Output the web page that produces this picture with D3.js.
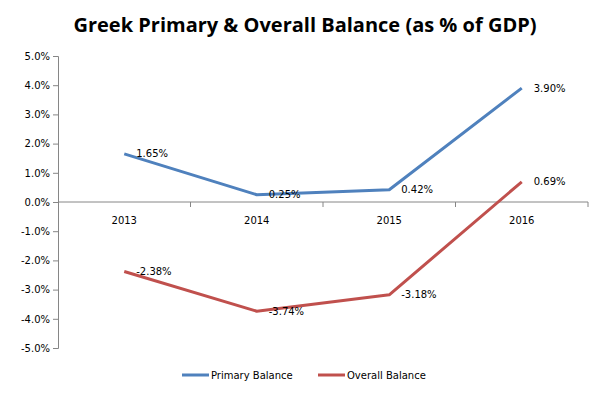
<!DOCTYPE html>
<html>
<head>
<meta charset="utf-8">
<script src="https://cdn.jsdelivr.net/npm/d3@7"></script>
<style>
  body { margin: 0; background: #fff; }
  text { font-family: "DejaVu Sans", Verdana, sans-serif; }
</style>
</head>
<body>
<div id="chart"></div>
<script>
const years = ["2013", "2014", "2015", "2016"];
const primaryBalance = [1.65, 0.25, 0.42, 3.90];
const overallBalance = [-2.38, -3.74, -3.18, 0.69];
const yTicks = [5, 4, 3, 2, 1, 0, -1, -2, -3, -4, -5];

const series = [
  {name: "Primary Balance", values: primaryBalance, color: "#4F81BD"},
  {name: "Overall Balance", values: overallBalance, color: "#C0504D"}
];

let W = 603, H = 396;
let margin = {top: 56, left: 58, right: 15, bottom: 48};
let width = W - margin.left - margin.right;
let height = H - margin.top - margin.bottom;

let svg = d3.select("#chart").append("svg")
  .attr("width", W)
  .attr("height", H);

// title
svg.append("text")
  .attr("x", 305)
  .attr("y", 32)
  .attr("text-anchor", "middle")
  .style("font-family", "'Open Sans', sans-serif")
  .style("font-weight", "bold")
  .style("font-size", "20px")
  .text("Greek Primary & Overall Balance (as % of GDP)");

let g = svg.append("g")
  .attr("transform", `translate(${margin.left}, ${margin.top})`);

let x = d3.scaleBand().domain(years).range([0, width]);
let y = d3.scaleLinear().domain([-5, 5]).range([height, 0]);

// y axis
let yAxis = g.append("g")
  .call(d3.axisLeft(y).tickValues(yTicks).tickSize(5).tickFormat(d => d.toFixed(1) + "%"));
yAxis.selectAll("text").style("font-size", "10px").attr("fill", "#000");
yAxis.select(".domain").attr("stroke", "#868686");
yAxis.selectAll(".tick line").attr("stroke", "#868686");

// x axis at zero, ticks between categories
let xAxis = g.append("g").attr("transform", `translate(0, ${y(0)})`);
xAxis.append("line")
  .attr("x1", 0).attr("x2", width)
  .attr("stroke", "#868686");
xAxis.selectAll(".xtick")
  .data(years.map((d, i) => i + 1))
  .enter().append("line")
  .attr("x1", i => i * x.bandwidth())
  .attr("x2", i => i * x.bandwidth())
  .attr("y1", 0).attr("y2", 5)
  .attr("stroke", "#868686");
xAxis.selectAll(".xlabel")
  .data(years)
  .enter().append("text")
  .attr("x", d => x(d) + x.bandwidth() / 2)
  .attr("y", 22)
  .attr("text-anchor", "middle")
  .style("font-size", "10px")
  .text(d => d);

let line = d3.line()
  .x((d, i) => x(years[i]) + x.bandwidth() / 2)
  .y(d => y(d));

series.forEach(s => {
  g.append("path")
    .datum(s.values)
    .attr("fill", "none")
    .attr("stroke", s.color)
    .attr("stroke-width", 3)
    .attr("stroke-linejoin", "round")
    .attr("d", line);

  g.selectAll(null)
    .data(s.values)
    .enter().append("text")
    .attr("x", (d, i) => x(years[i]) + x.bandwidth() / 2 + 12)
    .attr("y", d => y(d))
    .attr("dy", "0.35em")
    .style("font-size", "10px")
    .text(d => d.toFixed(2) + "%");
});

// legend
let legend = svg.append("g").attr("transform", "translate(182, 375)");
let legendX = [0, 136];
series.forEach((s, i) => {
  let lg = legend.append("g").attr("transform", `translate(${legendX[i]}, 0)`);
  lg.append("line")
    .attr("x1", 0).attr("x2", 27)
    .attr("stroke", s.color)
    .attr("stroke-width", 3);
  lg.append("text")
    .attr("x", 29)
    .attr("dy", "0.35em")
    .style("font-size", "10px")
    .text(s.name);
});
</script>
</body>
</html>
